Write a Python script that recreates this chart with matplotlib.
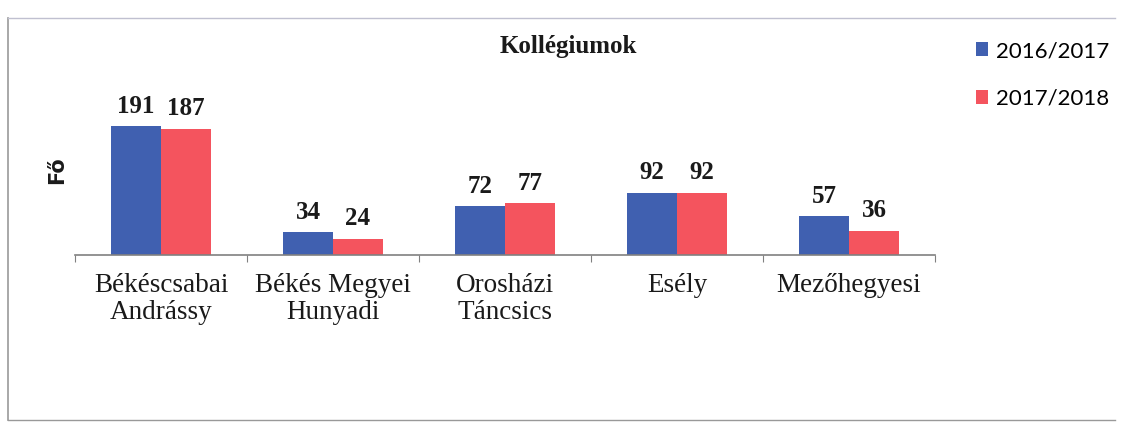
import matplotlib
matplotlib.use("Agg")
import matplotlib.pyplot as plt
import numpy as np
from matplotlib.lines import Line2D

categories = ["Békéscsabai\nAndrássy", "Békés Megyei\nHunyadi", "Orosházi\nTáncsics", "Esély", "Mezőhegyesi"]
series_names = ["2016/2017", "2017/2018"]
values_2016 = [191, 34, 72, 92, 57]
values_2017 = [187, 24, 77, 92, 36]
colors = ["#4060b0", "#f4545e"]

fig = plt.figure(figsize=(11.22, 4.30), dpi=100)
fig.patch.set_facecolor("white")

# scan frame
fig.add_artist(Line2D([8/1122, 8/1122], [1-18/430, 1-420/430], color="#999999", lw=1.2))
fig.add_artist(Line2D([8/1122, 1115/1122], [1-18/430, 1-18/430], color="#c0c0d0", lw=1.0))
fig.add_artist(Line2D([8/1122, 1115/1122], [1-420/430, 1-420/430], color="#999999", lw=1.0))

ax = fig.add_axes([75/1122, 1-255/430, 860/1122, 215/430])
x = np.arange(len(categories))
w = 0.29
b1 = ax.bar(x - w/2, values_2016, w, color=colors[0], label=series_names[0])
b2 = ax.bar(x + w/2, values_2017, w, color=colors[1], label=series_names[1])
ax.set_xlim(-0.5, len(categories) - 0.5)
ax.set_ylim(0, 318)

for bars, vals in ((b1, values_2016), (b2, values_2017)):
    for r, v in zip(bars, vals):
        ax.annotate(str(v), (r.get_x() + r.get_width()/2, v), xytext=(0, 6),
                    textcoords="offset points", ha="center", va="bottom",
                    fontsize=18, fontweight="bold", family="Liberation Serif", color="#1a1a1a")

for s in ("top", "right", "left"):
    ax.spines[s].set_visible(False)
ax.spines["bottom"].set_color("#808080")
ax.spines["bottom"].set_linewidth(1.2)
ax.set_yticks([])
ax.set_xticks(np.arange(-0.5, len(categories), 1.0))
ax.set_xticklabels([])
ax.tick_params(axis="x", length=5, color="#808080", direction="out")
for xi, c in zip(x, categories):
    ax.text(xi, -0.085, c, transform=ax.get_xaxis_transform(), ha="center", va="top",
            fontsize=19.5, family="Liberation Serif", color="#1a1a1a", linespacing=1.1)

fig.text(57/1122, 1-170/430, "Fő", rotation=90, ha="center", va="center",
         fontsize=15, fontweight="bold", family="DejaVu Sans", color="#1a1a1a")

fig.text(568/1122, 1-47/430, "Kollégiumok", ha="center", va="center",
         fontsize=18, fontweight="bold", family="Liberation Serif", color="#1a1a1a")

leg = fig.legend(handles=[b1, b2], labels=series_names, loc="upper left",
                 bbox_to_anchor=(956/1122, 1-21/430), frameon=False,
                 prop={"family": "Lato", "size": 16}, handlelength=0.55,
                 handleheight=0.55, handletextpad=0.35, labelspacing=1.25)

fig.savefig("out.png", dpi=100, facecolor="white")
